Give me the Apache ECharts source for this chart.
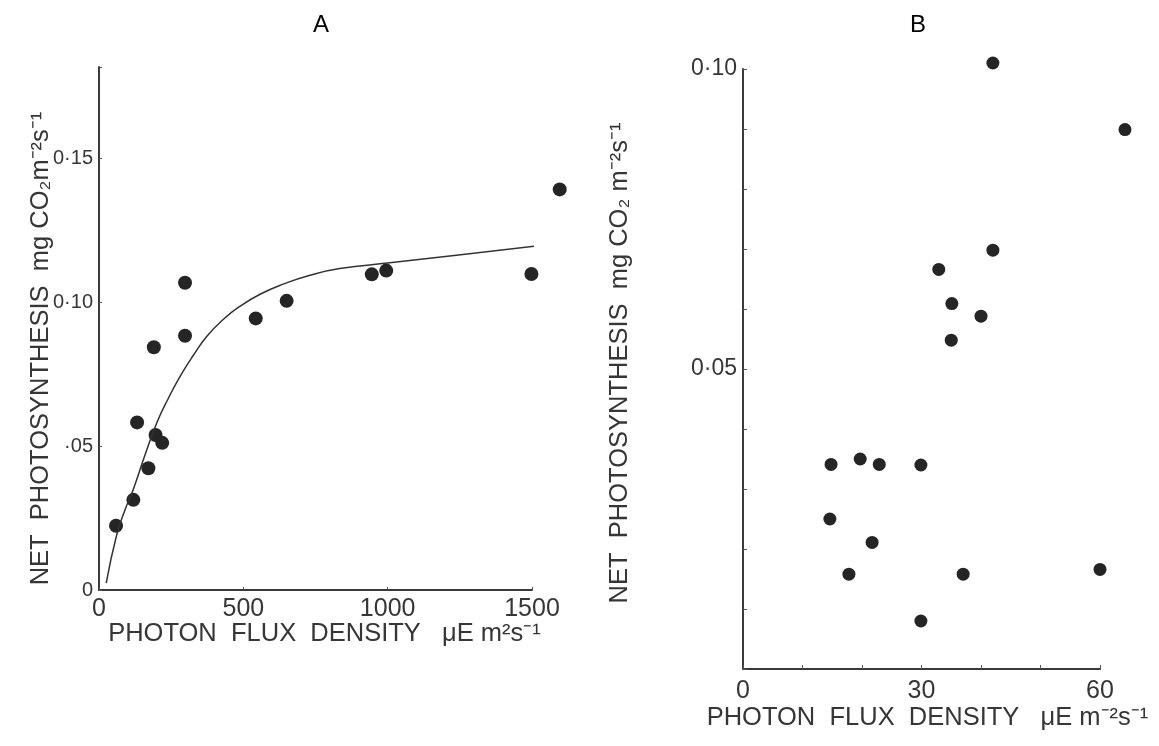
<!DOCTYPE html>
<html>
<head>
<meta charset="utf-8">
<script src="https://cdn.jsdelivr.net/npm/echarts@6/dist/echarts.min.js"></script>
<style>
  html, body { margin: 0; padding: 0; background: #fff; }
  #main { width: 1159px; height: 746px; }
</style>
</head>
<body>
<div id="main"></div>
<script>
// panel A : points and fitted curve
var aFlux = [59, 119, 132, 171, 190, 196, 219, 298, 298, 543, 650, 945, 995, 1498, 1596];
var aNet = [0.0223, 0.0313, 0.0582, 0.0423, 0.0843, 0.0538, 0.0511, 0.1067, 0.0883, 0.0943, 0.1004, 0.1096, 0.1109, 0.1097, 0.1391];
var aCurveFlux = [25, 61, 90, 119, 159, 200, 240, 280, 327, 373, 431, 488, 558, 638, 731, 834, 1007, 1238, 1537];
var aCurveNet = [0.0024, 0.0190, 0.0278, 0.0350, 0.0468, 0.0580, 0.0665, 0.0740, 0.0815, 0.0880, 0.0940, 0.0985, 0.1027, 0.1062, 0.1093, 0.1116, 0.1136, 0.1162, 0.1197];
var aYTicks = [0, 0.05, 0.10, 0.15];
var aYLabels = ['0', '·05', '0·10', '0·15'];
var aXTicks = [0, 500, 1000, 1500];

// panel B : points only
var bFlux = [42.0, 64.2, 42.0, 32.9, 35.1, 40.0, 35.0, 14.8, 19.7, 22.9, 29.9, 14.6, 21.7, 17.8, 37.0, 60.0, 29.9];
var bNet = [0.1010, 0.0899, 0.0698, 0.0666, 0.0609, 0.0588, 0.0548, 0.0341, 0.0350, 0.0341, 0.0340, 0.0250, 0.0211, 0.0158, 0.0158, 0.0166, 0.0080];
var bYTicks = [0.05, 0.10];
var bYLabels = ['0·05', '0·10'];
var bXTicks = [0, 30, 60];

function pairs(xs, ys) {
    var out = [];
    for (var i = 0; i < xs.length; i++) out.push([xs[i], ys[i]]);
    return out;
}
function pick(v, ticks, labels) {
    for (var i = 0; i < ticks.length; i++) {
        if (Math.abs(v - ticks[i]) < 1e-6) return labels[i];
    }
    return '';
}

var ink = '#363636';
var axisLine = { lineStyle: { color: '#3a3a3a', width: 2 } };
var font = 'Liberation Sans';
var nameFont = { color: ink, fontSize: 25.5, fontFamily: font };

var option = {
    animation: false,
    title: [
        { text: 'A', left: 308, top: 8, textStyle: { color: '#000', fontSize: 24, fontWeight: 'normal', fontFamily: font } },
        { text: 'B', left: 905, top: 8, textStyle: { color: '#000', fontSize: 24, fontWeight: 'normal', fontFamily: font } }
    ],
    grid: [
        { left: 99, top: 67, width: 433, height: 523 },
        { left: 743, top: 69, width: 357, height: 600 }
    ],
    xAxis: [
        {
            gridIndex: 0, type: 'value', min: 0, max: 1500, interval: 500,
            axisLine: axisLine,
            axisTick: { show: true, inside: true, length: 3, lineStyle: { color: '#555' } },
            splitLine: { show: false },
            axisLabel: {
                margin: 7, color: ink, fontSize: 25, fontFamily: font,
                formatter: function (v) { return pick(v, aXTicks, aXTicks.map(String)); }
            },
            name: 'PHOTON  FLUX  DENSITY   μE m²s⁻¹',
            nameLocation: 'middle', nameGap: 31, nameMoveOverlap: false,
            nameTextStyle: Object.assign({ padding: [0, 0, 0, 18] }, nameFont)
        },
        {
            gridIndex: 1, type: 'value', min: 0, max: 60, interval: 10,
            axisLine: axisLine,
            axisTick: { show: true, inside: true, length: 4, lineStyle: { color: '#555' } },
            splitLine: { show: false },
            axisLabel: {
                margin: 10, color: ink, fontSize: 25, fontFamily: font,
                formatter: function (v) { return pick(v, bXTicks, bXTicks.map(String)); }
            },
            name: 'PHOTON  FLUX  DENSITY   μE m⁻²s⁻¹',
            nameLocation: 'middle', nameGap: 36, nameMoveOverlap: false,
            nameTextStyle: Object.assign({ padding: [0, 0, 0, 12] }, nameFont)
        }
    ],
    yAxis: [
        {
            gridIndex: 0, type: 'value', min: 0, max: 0.1816, interval: 0.05,
            axisLine: axisLine,
            axisTick: { show: true, inside: true, length: 3, lineStyle: { color: '#555' } },
            splitLine: { show: false },
            axisLabel: {
                margin: 6, color: ink, fontSize: 20, fontFamily: font,
                formatter: function (v) { return pick(v, aYTicks, aYLabels); }
            },
            name: 'NET  PHOTOSYNTHESIS  mg CO₂m⁻²s⁻¹',
            nameLocation: 'middle', nameGap: 45, nameMoveOverlap: false,
            nameTextStyle: Object.assign({ padding: [0, 40, 0, 0] }, nameFont)
        },
        {
            gridIndex: 1, type: 'value', min: 0, max: 0.10, interval: 0.01,
            axisLine: axisLine,
            axisTick: { show: true, inside: true, length: 4, lineStyle: { color: '#555' } },
            splitLine: { show: false },
            axisLabel: {
                margin: 6, color: ink, fontSize: 23, fontFamily: font,
                formatter: function (v) { return pick(v, bYTicks, bYLabels); }
            },
            name: 'NET  PHOTOSYNTHESIS  mg CO₂ m⁻²s⁻¹',
            nameLocation: 'middle', nameGap: 110, nameMoveOverlap: false,
            nameTextStyle: Object.assign({ padding: [0, 0, 0, 12] }, nameFont)
        }
    ],
    series: [
        {
            type: 'line', xAxisIndex: 0, yAxisIndex: 0, smooth: true, clip: false,
            showSymbol: false, symbol: 'none',
            lineStyle: { color: '#333', width: 1.5 },
            data: pairs(aCurveFlux, aCurveNet)
        },
        {
            type: 'scatter', xAxisIndex: 0, yAxisIndex: 0, clip: false,
            symbolSize: 14, itemStyle: { color: '#252525', opacity: 1 },
            data: pairs(aFlux, aNet)
        },
        {
            type: 'scatter', xAxisIndex: 1, yAxisIndex: 1, clip: false,
            symbolSize: 13, itemStyle: { color: '#252525', opacity: 1 },
            data: pairs(bFlux, bNet)
        }
    ]
};

var chart = echarts.init(document.getElementById('main'));
chart.setOption(option);
</script>
</body>
</html>
